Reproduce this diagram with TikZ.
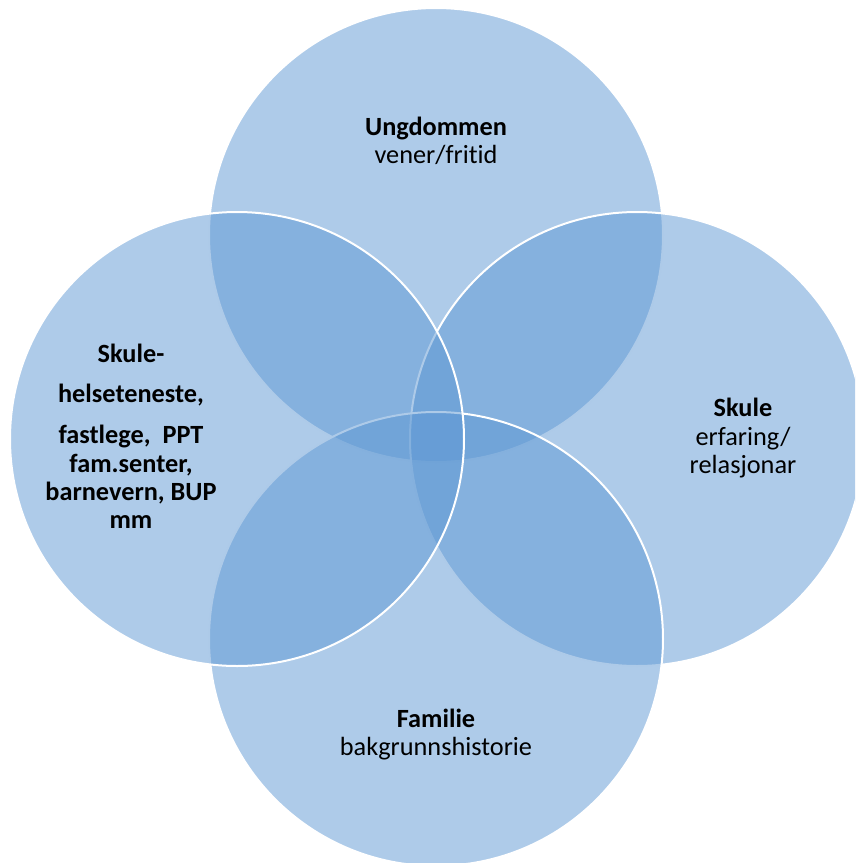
\documentclass[tikz,border=0pt]{standalone}
\usepackage{fontspec}
\setmainfont{Carlito}[Ligatures=NoCommon]
\begin{document}
\begin{tikzpicture}[x=1pt,y=-1pt,
  venn/.style={fill=vennblue,fill opacity=0.5,draw=white,draw opacity=1,line width=2pt},
  lbl/.style={anchor=base,inner sep=0pt,font=\fontsize{26.3}{32}\selectfont},
  blbl/.style={lbl,font=\fontsize{26.3}{32}\selectfont\bfseries}]
\definecolor{vennblue}{RGB}{93,151,211}
\useasboundingbox (0,0) rectangle (855,863);
\clip (0,0) rectangle (855,863);
\draw[venn] (436,235) circle[radius=227];
\draw[venn] (637,439) circle[radius=227];
\draw[venn] (436,639) circle[radius=227];
\draw[venn] (237,439) circle[radius=227];
% top
\node[blbl] (t1) at (436,135) {Ungdommen};
\node[lbl] (t2) at (436,163) {vener/fritid};
% right
\node[blbl] (r1) at (743,416) {Skule};
\node[lbl] (r2) at (743,445) {erfaring/};
\node[lbl] (r3) at (743,473) {relasjonar};
% bottom
\node[blbl] (b1) at (436,727) {Familie};
\node[lbl] (b2) at (436,755) {bakgrunnshistorie};
% left
\node[blbl] (l1) at (131,362) {Skule-};
\node[blbl] (l2) at (131,402) {helseteneste,};
\node[blbl] (l3) at (131,443) {fastlege,\ \ PPT};
\node[blbl] (l4) at (131,472) {fam.senter,};
\node[blbl] (l5) at (131,500) {barnevern, BUP};
\node[blbl] (l6) at (131,528) {mm};
\end{tikzpicture}
\end{document}
